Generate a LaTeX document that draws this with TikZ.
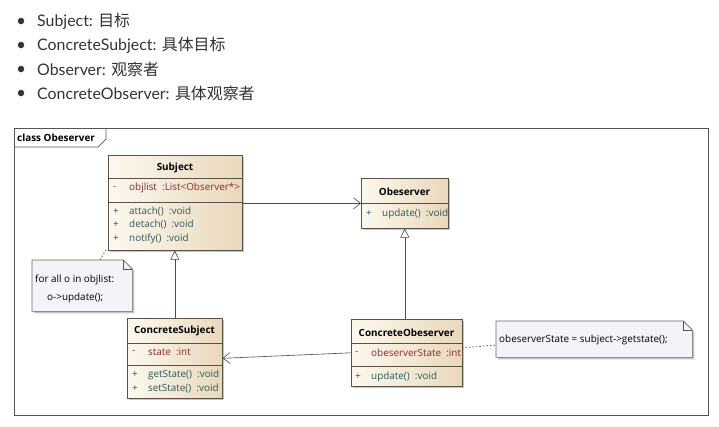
\documentclass[tikz,border=0pt]{standalone}
\usepackage{fontspec}
\setmainfont{Open Sans}
\newfontfamily\latofont{Lato}
\newfontfamily\cjk{Noto Sans CJK SC}
\usetikzlibrary{shadows,arrows.meta}
\definecolor{bultext}{HTML}{333333}
\definecolor{boxL}{HTML}{FDF8EF}
\definecolor{boxR}{HTML}{E9D8BB}
\definecolor{boxline}{HTML}{5A5148}
\definecolor{attrc}{HTML}{8B2A2A}
\definecolor{methc}{HTML}{2B5B5B}
\definecolor{notefill}{HTML}{F6F3F8}
\definecolor{framec}{HTML}{555555}
\definecolor{linec}{HTML}{4A4A4A}
\newcommand{\dfont}{\fontsize{9.9}{12}\selectfont}
\begin{document}
\begin{tikzpicture}[x=1pt,y=-1pt,
  bul/.style={circle,fill=bultext,inner sep=0,minimum size=6.5pt},
  btext/.style={anchor=west,inner sep=0,text=bultext,font=\latofont\fontsize{15.9}{18}\selectfont},
  classbox/.style={draw=boxline,line width=0.6pt,left color=boxL,right color=boxR,anchor=north west,inner sep=0,
     drop shadow={shadow xshift=2pt,shadow yshift=-2pt,fill=black!45,opacity=0.5}},
  notebox/.style={draw=none,anchor=north west,inner sep=0},
  notepath/.style={draw=framec!90,line width=0.6pt,fill=notefill,
     drop shadow={shadow xshift=2pt,shadow yshift=-2pt,fill=black!45,opacity=0.5}},
  sep/.style={draw=boxline,line width=0.6pt},
  ttl/.style={inner sep=0,font=\dfont\bfseries,text=black},
  vis/.style={anchor=west,inner sep=0,font=\dfont},
  attr/.style={anchor=west,inner sep=0,font=\dfont,text=attrc},
  meth/.style={anchor=west,inner sep=0,font=\dfont,text=methc},
  ntext/.style={anchor=west,inner sep=0,font=\dfont,text=black},
  gen/.style={draw=linec,line width=0.6pt,-{Triangle[open,length=9pt,width=9pt,fill=white]}},
  assoc/.style={draw=linec,line width=0.6pt,-{Straight Barb[length=7pt,width=11pt,line width=0.6pt]}},
  dots/.style={draw=linec,line width=0.7pt,dash pattern=on 1.5pt off 2pt}
]
\useasboundingbox (0,0) rectangle (719,426);
\fill[white] (0,0) rectangle (719,426);

% bullet list
\node[bul] (b1) at (21,21) {};
\node[btext] (t1) at (37,21) {Subject: {\cjk 目标}};
\node[bul] (b2) at (21,45) {};
\node[btext] (t2) at (37,45) {ConcreteSubject: {\cjk 具体目标}};
\node[bul] (b3) at (21,69) {};
\node[btext] (t3) at (37,69) {Observer: {\cjk 观察者}};
\node[bul] (b4) at (21,93) {};
\node[btext] (t4) at (37,93) {ConcreteObserver: {\cjk 具体观察者}};

% frame
\node[draw=framec,line width=0.8pt,anchor=north west,minimum width=694pt,minimum height=287pt,inner sep=0] (frame) at (14,128) {};
\draw[framec,line width=0.7pt] (14,147) -- (98,147) -- (106,139) -- (106,128);
\node[anchor=west,inner sep=0,font=\dfont\bfseries] (ftitle) at (17,138) {class Obeserver};

% Subject
\node[classbox,minimum width=134pt,minimum height=95pt] (subj) at (108,155) {};
\draw[sep] (108,178) -- (242,178);
\draw[sep] (108,202) -- (242,202);
\node[ttl] (subjT) at (175,168) {Subject};
\node[vis,text=attrc] (s1) at (113,188) {-};
\node[attr] (s1b) at (129,188) {objlist\ \ :List<Observer*>};
\node[vis,text=methc] (s2) at (113,212) {+};
\node[meth] (s2b) at (129,212) {attach()\ \ :void};
\node[vis,text=methc] (s3) at (113,225) {+};
\node[meth] (s3b) at (129,225) {detach()\ \ :void};
\node[vis,text=methc] (s4) at (113,239) {+};
\node[meth] (s4b) at (129,239) {notify()\ \ :void};

% Obeserver
\node[classbox,minimum width=87pt,minimum height=50pt] (obs) at (361,178) {};
\draw[sep] (361,203) -- (448,203);
\node[ttl] (obsT) at (404.5,192) {Obeserver};
\node[vis,text=methc] (o1) at (366,214) {+};
\node[meth] (o1b) at (382,214) {update()\ \ :void};

% ConcreteSubject
\node[classbox,minimum width=95pt,minimum height=80pt] (csubj) at (127,318) {};
\draw[sep] (127,343) -- (222,343);
\draw[sep] (127,365) -- (222,365);
\node[ttl] (csT) at (174.5,331) {ConcreteSubject};
\node[vis,text=attrc] (c1) at (132,352) {-};
\node[attr] (c1b) at (148,352) {state\ \ :int};
\node[vis,text=methc] (c2) at (132,375) {+};
\node[meth] (c2b) at (148,375) {getState()\ \ :void};
\node[vis,text=methc] (c3) at (132,389) {+};
\node[meth] (c3b) at (148,389) {setState()\ \ :void};

% ConcreteObeserver
\node[classbox,minimum width=111pt,minimum height=67pt] (cobs) at (351,319) {};
\draw[sep] (351,343) -- (462,343);
\draw[sep] (351,366) -- (462,366);
\node[ttl] (coT) at (406.5,333) {ConcreteObeserver};
\node[vis,text=attrc] (d1) at (355,353) {-};
\node[attr] (d1b) at (371,353) {obeserverState\ \ :int};
\node[vis,text=methc] (d2) at (355,377) {+};
\node[meth] (d2b) at (371,377) {update()\ \ :void};

% notes
\node[notebox,minimum width=100pt,minimum height=51pt] (note1) at (32,260) {};
\path[notepath] (note1.north west) -- ([xshift=-9pt]note1.north east) -- ([yshift=-9pt]note1.north east) -- (note1.south east) -- (note1.south west) -- cycle;
\draw[framec,line width=0.6pt] ([xshift=-9pt]note1.north east) -- ([xshift=-9pt,yshift=-9pt]note1.north east) -- ([yshift=-9pt]note1.north east);
\node[ntext] (n1a) at (35,280) {for all o in objlist:};
\node[ntext] (n1b) at (47,298) {o->update();};

\node[notebox,minimum width=196pt,minimum height=36pt] (note2) at (496,321) {};
\path[notepath] (note2.north west) -- ([xshift=-9pt]note2.north east) -- ([yshift=-9pt]note2.north east) -- (note2.south east) -- (note2.south west) -- cycle;
\draw[framec,line width=0.6pt] ([xshift=-9pt]note2.north east) -- ([xshift=-9pt,yshift=-9pt]note2.north east) -- ([yshift=-9pt]note2.north east);
\node[ntext] (n2a) at (499,340) {obeserverState = subject->getstate();};

% connectors
\draw[gen] (csubj.north) -- (csubj.north |- subj.south);
\draw[gen] (cobs.north -| obs.south) -- (obs.south);
\draw[assoc] (subj.east |- obs.west) -- (obs.west);
\draw[assoc] (cobs.west) -- (csubj.east);
\coordinate (l1a) at (100,260);
\coordinate (l1b) at (106,250);
\draw[dots] (l1a) -- (l1b);
\coordinate (l2a) at (462,348);
\coordinate (l2b) at (496,345);
\draw[dots] (l2a) -- (l2b);
\end{tikzpicture}
\end{document}
